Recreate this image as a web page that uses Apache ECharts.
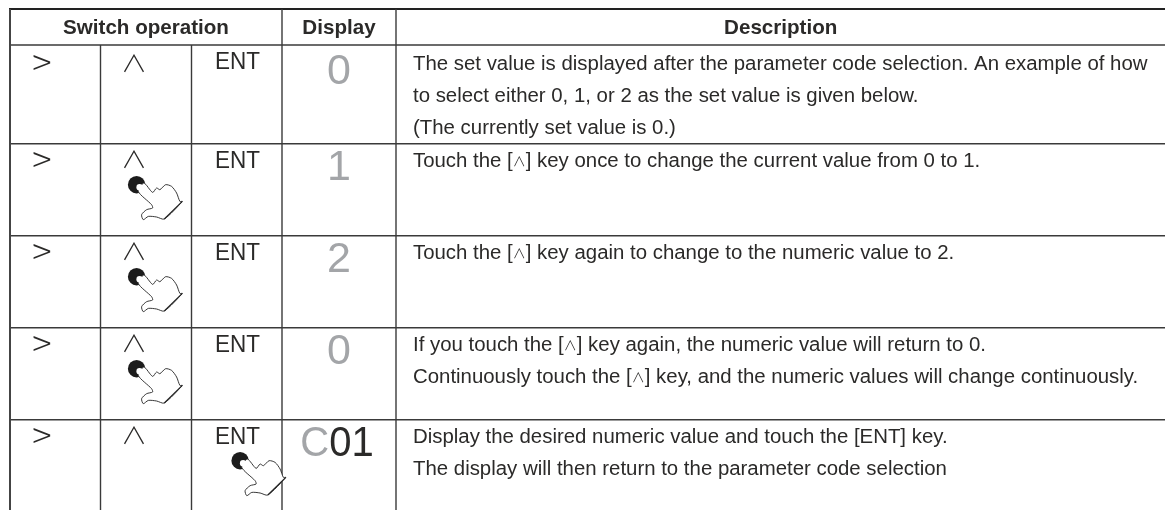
<!DOCTYPE html>
<html><head><meta charset="utf-8">
<style>html,body{margin:0;padding:0;background:#fff}#c{width:1165px;height:510px}</style>
<script src="https://cdn.jsdelivr.net/npm/echarts@6/dist/echarts.min.js"></script></head>
<body><div id="c"></div>
<script>
const headers = ["Switch operation", "Display", "Description"];
const switchKeys = [">", "∧", "ENT"];
const displayValues = ["0", "1", "2", "0", "C01"];
const touchedKey = [null, 1, 1, 1, 2];
const descriptions = [
  ["The set value is displayed after the parameter code selection. An example of how",
   "to select either 0, 1, or 2 as the set value is given below.",
   "(The currently set value is 0.)"],
  ["Touch the [∧] key once to change the current value from 0 to 1."],
  ["Touch the [∧] key again to change to the numeric value to 2."],
  ["If you touch the [∧] key again, the numeric value will return to 0.",
   "Continuously touch the [∧] key, and the numeric values will change continuously."],
  ["Display the desired numeric value and touch the [ENT] key.",
   "The display will then return to the parameter code selection"]
];

// layout of the table on hidden pixel-like axes
const W = 1165, H = 510;
const colEdges = [10, 100.5, 191.5, 282, 396];
const rowEdges = [45, 143.7, 235.7, 327.7, 419.7];
const tableTop = 9;
const keyCenters = [42, 134, 237.5];
const descX = 413;
const DARK = '#2b2a29', GRAY = '#a3a5a8', LINE = '#3a3a3a';
const F = 'Liberation Sans, Arial, sans-serif';
const CJK = '"Noto Sans CJK JP"';

const handOutline = [[7.3,-1.7],[16,7.7],[20,3.3],[23.3,5],[29,0],[35,1.7],[40,8.3],[43.3,16.7],[45.7,16.7],[27.7,34.3],[20,32.3],[11.7,31.7],[6.7,35],[5,30],[10,25],[16,23.3],[15,20],[1.7,6.7]];

function seg(api, a, b, c, w) {
  const p = api.coord(a), q = api.coord(b);
  return {type:'line', shape:{x1:p[0],y1:p[1],x2:q[0],y2:q[1]}, style:{stroke:c,lineWidth:w}};
}
function txt(api, x, y, text, font, fill, align, rich, scaleY) {
  const p = api.coord([x,y]);
  return {type:'text', x:p[0], y:p[1], scaleY:scaleY||1,
    style:{x:0,y:0,text,font,fill,align:align||'left',verticalAlign:'middle',rich}};
}
function drawRules(params, api) {
  const kids = [];
  kids.push(seg(api,[colEdges[0]-1,tableTop],[W,tableTop],'#222',2));
  rowEdges.forEach(y => kids.push(seg(api,[colEdges[0],y],[W,y],LINE,1.4)));
  kids.push(seg(api,[colEdges[0],tableTop],[colEdges[0],H],'#444',2));
  kids.push(seg(api,[colEdges[3],tableTop],[colEdges[3],H],LINE,1.4));
  kids.push(seg(api,[colEdges[4],tableTop],[colEdges[4],H],LINE,1.4));
  kids.push(seg(api,[colEdges[1],rowEdges[0]],[colEdges[1],H],LINE,1.4));
  kids.push(seg(api,[colEdges[2],rowEdges[0]],[colEdges[2],H],LINE,1.4));
  return {type:'group',children:kids};
}
const descFont = '20.4px '+F, richKey = {k:{font:'300 13px '+CJK,fill:DARK}};
function drawRow(params, api) {
  const r = params.dataIndex, top = rowEdges[r], kids = [], first = r===0 ? 2.5 : 0;
  keyCenters.forEach((x,i) => {
    const s = switchKeys[i];
    if (i===0) kids.push(txt(api,x,top+15.3+first,s,'300 36px '+CJK,DARK,'center'));
    else if (i===1) kids.push(txt(api,x,top+15.3+first,s,'300 26px '+CJK,DARK,'center',null,0.9));
    else kids.push(txt(api,x,top+17.6,s,'22.5px '+F,DARK,'center',null,1.07));
  });
  const d = displayValues[r];
  if (d.length>1) {
    kids.push(txt(api,337,top+24.3,'{g|'+d[0]+'}{b|'+d.slice(1)+'}','40px '+F,DARK,'center',
      {g:{font:'40px '+F,fill:GRAY},b:{font:'40px '+F,fill:DARK}},1.08));
  } else kids.push(txt(api,339,top+24.3+first,d,'43px '+F,GRAY,'center'));
  descriptions[r].forEach((line,i) => {
    kids.push(txt(api,descX,top+17.5+first*0.6+i*32,line.replace(/∧/g,'{k|∧}'),descFont,DARK,'left',richKey,1.03));
  });
  if (touchedKey[r]!==null) kids.push(hand(api,keyCenters[touchedKey[r]]+2.6,top+41));
  return {type:'group',children:kids};
}
function hand(api,x,y) {
  const p = api.coord([x,y]);
  return {type:'group',x:p[0],y:p[1],children:[
    {type:'circle',shape:{cx:0,cy:0,r:8.7},style:{fill:'#1c1c1c'}},
    {type:'polygon',shape:{points:handOutline,smooth:0.25},style:{fill:'#fff',stroke:'#222',lineWidth:0.9}},
    {type:'circle',shape:{cx:3,cy:2.5,r:3.2},style:{fill:'#fff'}},
    {type:'line',shape:{x1:45.7,y1:16.7,x2:27.7,y2:34.3},style:{stroke:'#222',lineWidth:1.1}}
  ]};
}
function drawHeader(params, api) {
  const cs = [146,339,780.7];
  return {type:'group',children:headers.map((h,i)=>txt(api,cs[i],28.3,h,'bold 20.6px '+F,DARK,'center'))};
}
const chart = echarts.init(document.getElementById('c'),null,{renderer:'canvas'});
chart.setOption({
  animation:false, backgroundColor:'#fff',
  grid:{left:0,right:0,top:0,bottom:0},
  xAxis:{type:'value',min:0,max:W,show:false},
  yAxis:{type:'value',min:0,max:H,inverse:true,show:false},
  series:[
    {type:'custom',name:'rules',data:[0],renderItem:drawRules,silent:true,clip:false},
    {type:'custom',name:'header',data:[0],renderItem:drawHeader,silent:true,clip:false},
    {type:'custom',name:'rows',data:displayValues.map((_,i)=>i),renderItem:drawRow,silent:true,clip:false}
  ]
});
</script></body></html>
